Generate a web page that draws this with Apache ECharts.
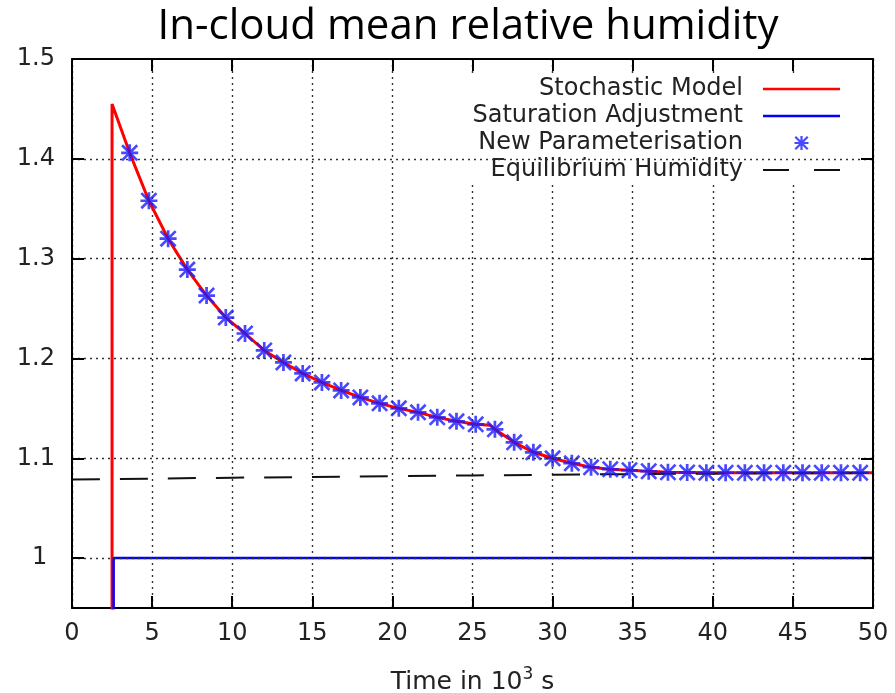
<!DOCTYPE html>
<html><head><meta charset="utf-8">
<script src="https://cdn.jsdelivr.net/npm/echarts@6/dist/echarts.min.js"></script>
<style>html,body{margin:0;padding:0;background:#fff}#c{width:895px;height:693px}</style>
</head><body><div id="c"></div>
<script>
const chartTitle = 'In-cloud mean relative humidity';
const xTicks = [0, 5, 10, 15, 20, 25, 30, 35, 40, 45, 50];
const yTicks = [1, 1.1, 1.2, 1.3, 1.4, 1.5];
const yGridValues = [1, 1.1, 1.2, 1.3, 1.4];

// Stochastic Model (red line)
const stochX = [2.5, 2.5, 3.6, 4.8, 6.0, 7.2, 8.4, 9.6, 10.8, 12.0, 13.2, 14.4, 15.6, 16.8, 18.0, 19.2, 20.4, 21.6, 22.8, 24.0, 25.2, 26.1, 26.4, 27.6, 28.8, 30.0, 31.2, 32.4, 33.6, 34.8, 36.0, 37.2, 38.4, 40.0, 45.0, 50.0];
const stochY = [0.90, 1.455, 1.406, 1.358, 1.320, 1.289, 1.263, 1.241, 1.225, 1.208, 1.196, 1.185, 1.176, 1.168, 1.161, 1.155, 1.150, 1.146, 1.141, 1.137, 1.134, 1.133, 1.129, 1.116, 1.106, 1.100, 1.095, 1.091, 1.089, 1.088, 1.087, 1.086, 1.0858, 1.0855, 1.0855, 1.0855];

// Saturation Adjustment (blue line)
const satX = [2.6, 2.6, 50];
const satY = [0.90, 1.0, 1.0];

// New Parameterisation (blue stars)
const paramX = [3.6, 4.8, 6.0, 7.2, 8.4, 9.6, 10.8, 12.0, 13.2, 14.4, 15.6, 16.8, 18.0, 19.2, 20.4, 21.6, 22.8, 24.0, 25.2, 26.4, 27.6, 28.8, 30.0, 31.2, 32.4, 33.6, 34.8, 36.0, 37.2, 38.4, 39.6, 40.8, 42.0, 43.2, 44.4, 45.6, 46.8, 48.0, 49.2];
const paramY = [1.406, 1.358, 1.320, 1.289, 1.263, 1.241, 1.225, 1.208, 1.196, 1.185, 1.176, 1.168, 1.161, 1.155, 1.150, 1.146, 1.141, 1.137, 1.134, 1.129, 1.116, 1.106, 1.100, 1.095, 1.091, 1.089, 1.088, 1.087, 1.086, 1.0858, 1.0855, 1.0855, 1.0855, 1.0855, 1.0855, 1.0855, 1.0855, 1.0855, 1.0855];

// Equilibrium Humidity (black dashed)
const eqX = [0, 10, 20, 30, 40, 50];
const eqY = [1.0787, 1.0805, 1.0820, 1.0835, 1.0846, 1.0852];

const zip = (a, b) => a.map((v, i) => [v, b[i]]);
const starPath = 'path://M42,0H58V100H42Z M0,42H100V58H0Z M11,0L100,89L89,100L0,11Z M89,0L100,11L11,100L0,89Z';
const FONT = 'DejaVu Sans';

const chart = echarts.init(document.getElementById('c'));
chart.setOption({
  animation: false,
  backgroundColor: '#fff',
  title: {
    text: chartTitle, left: 463, top: 1, textAlign: 'center',
    textStyle: { fontFamily: 'Open Sans', fontSize: 42, fontWeight: 'normal', color: '#000' }
  },
  grid: { left: 72, right: 22, top: 59, bottom: 85, containLabel: false, outerBoundsMode: 'none' },
  legend: {
    orient: 'vertical', align: 'right', right: 25, top: 74,
    itemWidth: 77, itemHeight: 14, itemGap: 3,
    backgroundColor: '#fff', padding: [3, 30, 3, 10], z: 4,
    textStyle: { fontFamily: FONT, fontSize: 24, color: '#222', lineHeight: 24, padding: [0, 15, 0, 0] },
    data: [
      { name: 'Stochastic Model', icon: 'path://M0,0H77V2.5H0Z' },
      { name: 'Saturation Adjustment', icon: 'path://M0,0H77V2.5H0Z' },
      { name: 'New Parameterisation' },
      { name: 'Equilibrium Humidity', icon: 'path://M0,0H26V2H0Z M51,0H77V2H51Z' }
    ]
  },
  xAxis: [{
    type: 'value', min: 0, max: 50, interval: 5, position: 'bottom', z: 0,
    axisLine: { show: true, onZero: false, lineStyle: { color: '#000', width: 2 } },
    axisTick: { show: true, inside: true, length: 12, lineStyle: { color: '#000', width: 2 } },
    axisLabel: { fontFamily: FONT, fontSize: 24, color: '#222', margin: 14 },
    splitLine: { show: true, lineStyle: { color: '#333', width: 1.4, type: [2, 4] } },
    name: 'Time in 10{sup|3} s', nameLocation: 'middle', nameGap: 58,
    nameTextStyle: { fontFamily: FONT, fontSize: 25, color: '#222',
      rich: { sup: { fontFamily: FONT, fontSize: 17, color: '#222', verticalAlign: 'top', padding: [0, 0, 15, 0] } } }
  }, {
    type: 'value', min: 0, max: 50, interval: 5, position: 'top', z: 10,
    axisLine: { show: true, onZero: false, lineStyle: { color: '#000', width: 2 } },
    axisTick: { show: true, inside: true, length: 12, lineStyle: { color: '#000', width: 2 } },
    axisLabel: { show: false }, splitLine: { show: false }
  }],
  yAxis: [{
    type: 'value', min: 0.95, max: 1.5, position: 'left', z: 10,
    axisLine: { show: true, onZero: false, lineStyle: { color: '#000', width: 2 } },
    axisTick: { show: true, inside: true, length: 12, customValues: yTicks, lineStyle: { color: '#000', width: 2 } },
    axisLabel: { fontFamily: FONT, fontSize: 24, color: '#222', margin: 17, customValues: yTicks,
      formatter: v => { const r = Math.round(v * 10) / 10; return Number.isInteger(r) ? String(r) + ' ' : r.toFixed(1); } },
    splitLine: { show: false }
  }, {
    type: 'value', min: 0.95, max: 1.5, position: 'right', z: 10,
    axisLine: { show: true, onZero: false, lineStyle: { color: '#000', width: 2 } },
    axisTick: { show: true, inside: true, length: 12, customValues: yTicks, lineStyle: { color: '#000', width: 2 } },
    axisLabel: { show: false }, splitLine: { show: false }
  }],
  series: [
    {
      name: 'grid', type: 'line', data: [], silent: true, z: 1,
      markLine: {
        silent: true, symbol: ['none', 'none'], label: { show: false }, animation: false,
        lineStyle: { color: '#333', width: 1.4, type: [2, 4] },
        data: yGridValues.map(v => ({ yAxis: v }))
      }
    },
    {
      name: 'Stochastic Model', type: 'line', data: zip(stochX, stochY), showSymbol: false, symbol: 'none',
      lineStyle: { color: '#ff0000', width: 3 }, itemStyle: { color: '#ff0000' }, z: 2, clip: true
    },
    {
      name: 'Saturation Adjustment', type: 'line', data: zip(satX, satY), showSymbol: false, symbol: 'none',
      lineStyle: { color: '#0000ff', width: 2.5 }, itemStyle: { color: '#0000ff' }, z: 2, clip: true
    },
    {
      name: 'Equilibrium Humidity', type: 'line', data: zip(eqX, eqY), showSymbol: false, symbol: 'none', smooth: true,
      lineStyle: { color: '#111', width: 2, type: [28, 20] }, itemStyle: { color: '#111' }, z: 3
    },
    {
      name: 'New Parameterisation', type: 'scatter', data: zip(paramX, paramY), symbol: starPath, symbolSize: 17,
      itemStyle: { color: '#1a1aff' }, z: 4
    }
  ]
});
</script>
</body></html>
